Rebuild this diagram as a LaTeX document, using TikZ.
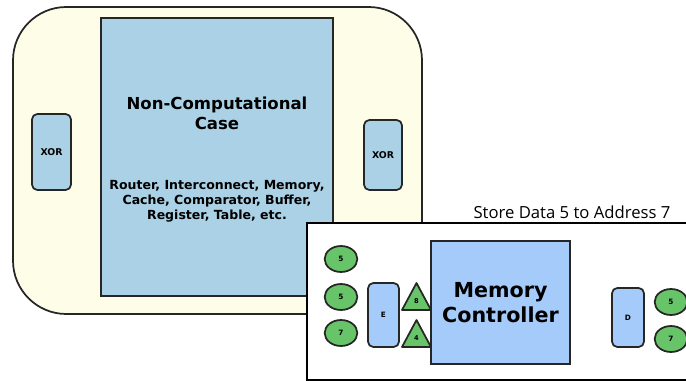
\documentclass[tikz,border=0pt]{standalone}
\usepackage{fontspec}
\setmainfont{DejaVu Sans}
\newfontfamily\captionFont{Open Sans}
\usetikzlibrary{positioning, shapes.geometric}
\tikzstyle{pixels} = [x = .75pt, y = -.75pt, every node/.style={transform shape}]
\definecolor{creamColor}{RGB}{254,253,232}
\definecolor{caseBlue}{RGB}{170,209,229}
\definecolor{ctrlBlue}{RGB}{164,203,249}
\definecolor{dotGreen}{RGB}{104,196,104}
\tikzstyle{outlineStyle} = [draw=black!85, line width=1.3pt]
\tikzstyle{chipStyle} = [outlineStyle, fill=creamColor, rounded corners = 40pt]
\tikzstyle{caseStyle} = [outlineStyle, fill=caseBlue]
\tikzstyle{gateStyle} = [outlineStyle, fill=caseBlue, rounded corners = 4pt, font=\bfseries\fontsize{7}{8}\selectfont]
\tikzstyle{codecStyle} = [outlineStyle, fill=ctrlBlue, rounded corners = 4pt, font=\bfseries\fontsize{5.5}{6}\selectfont]
\tikzstyle{panelStyle} = [draw=black, line width=2.2pt, fill=white]
\tikzstyle{ctrlStyle} = [outlineStyle, fill=ctrlBlue]
\tikzstyle{dotStyle} = [outlineStyle, fill=dotGreen, ellipse, inner sep=0pt, minimum width=24.5pt, minimum height=19.5pt, font=\bfseries\fontsize{5.5}{6}\selectfont]
\tikzstyle{tagStyle} = [outlineStyle, fill=dotGreen, line join=round]
\tikzstyle{tagText} = [font=\bfseries\fontsize{5}{5}\selectfont]
\newcommand{\roundBox}[6]{\node [#1, minimum width=#4*.75pt, minimum height=#5*.75pt, inner sep=0pt] (#2) at (#3) {#6};}
\newcommand{\greenDot}[3]{\node [dotStyle] (#1) at (#2) {#3};}
\newcommand{\tagMark}[4]{\filldraw [tagStyle] (#2, #3 + 27) -- (#2 + 14.5, #3) -- (#2 + 29, #3 + 27) -- cycle;
  \node [tagText] (#1) at (#2 + 14.5, #3 + 18) {#4};}

\begin{document}
\begin{tikzpicture}[pixels]
\useasboundingbox (0,0) rectangle (686,381);
\clip (0,0) rectangle (686,381);
% chip with the non-computational case
\filldraw [chipStyle] (13,7) rectangle (422,314);
\filldraw [caseStyle] (101,18) rectangle (333,296);
\node [align=center, font=\bfseries\fontsize{12.4}{15}\selectfont] (title) at (217,113) {Non-Computational\\Case};
\node [align=center, font=\bfseries\fontsize{9.4}{11.3}\selectfont] (list) at (217,201) {Router, Interconnect, Memory,\\Cache, Comparator, Buffer,\\Register, Table, etc.};
\roundBox{gateStyle}{xorLeft}{51.5,152}{39}{76}{XOR}
\roundBox{gateStyle}{xorRight}{383,155}{38}{70}{XOR}
% memory controller panel
\node [font=\captionFont\fontsize{12.5}{14}\selectfont, anchor=base] (caption) at (572,219) {Store Data 5 to Address 7};
\filldraw [panelStyle] (307,223) rectangle (700,380);
\roundBox{ctrlStyle}{ctrl}{500.5,302.5}{139}{123}{}
\node [align=center, font=\bfseries\fontsize{15.5}{19}\selectfont] (ctrlText) at (ctrl) {Memory\\Controller};
\roundBox{codecStyle}{enc}{383.5,315}{31}{64}{E}
\roundBox{codecStyle}{dec}{628,317.5}{32}{59}{D}
\greenDot{dataA}{341,259}{5}
\greenDot{dataB}{341,297}{5}
\greenDot{addrA}{341,333}{7}
\tagMark{tagA}{402}{283}{8}
\tagMark{tagB}{402}{320}{4}
\greenDot{outData}{671,302}{5}
\greenDot{outAddr}{671,339}{7}
\end{tikzpicture}
\end{document}
